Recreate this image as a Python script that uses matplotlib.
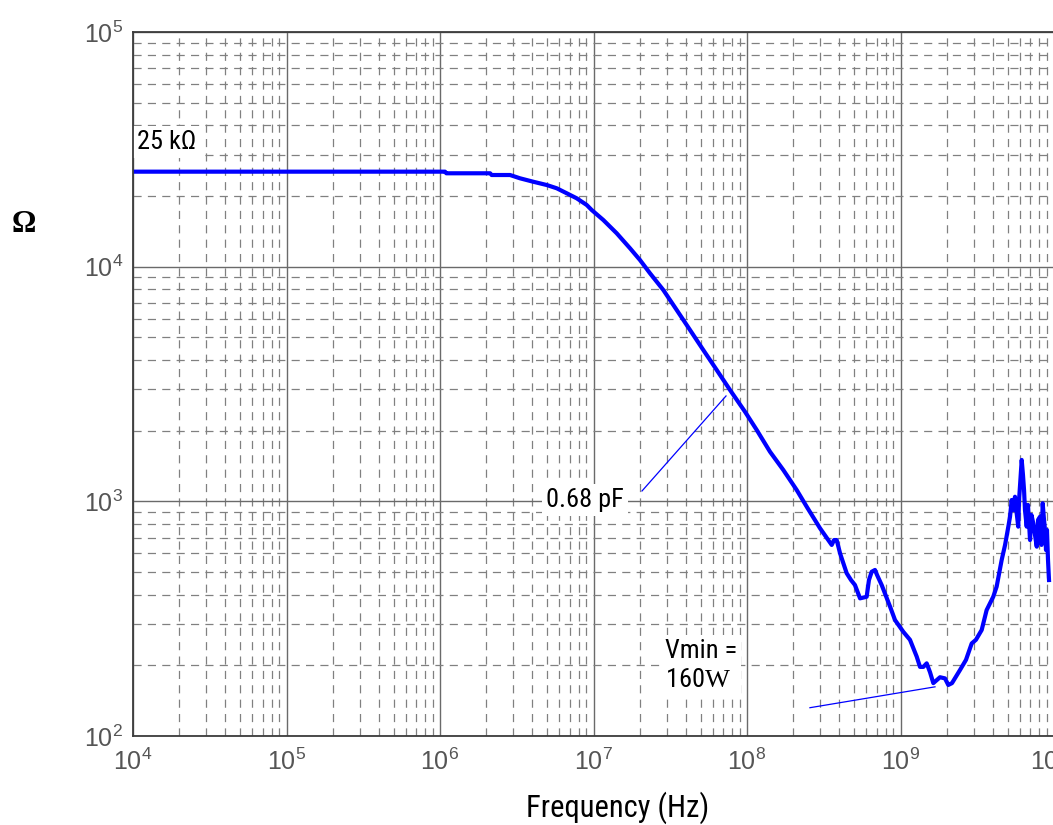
import numpy as np
import matplotlib
matplotlib.use('Agg')
import matplotlib.pyplot as plt
from matplotlib import font_manager
from matplotlib.ticker import FixedLocator, LogLocator, NullFormatter

# impedance magnitude
freq_hz = [1e4, 1.078e6, 1.1e6, 2.12e6, 2.17e6, 2.86e6, 3.32e6, 4.04e6, 4.96e6, 5.76e6,
           6.69e6, 7.77e6, 9.03e6, 9.73e6, 1.158e7, 1.416e7, 1.729e7, 2.009e7, 2.334e7, 2.849e7,
           3.483e7, 4.253e7, 5.19e7, 6.35e7, 7.75e7, 9.70e7, 1.157e8, 1.412e8, 1.724e8, 2.107e8,
           2.448e8, 2.99e8, 3.563e8, 3.69e8, 3.84e8, 4.04e8, 4.46e8, 4.76e8, 5.05e8, 5.45e8,
           6.02e8, 6.23e8, 6.49e8, 6.82e8, 7.03e8, 7.54e8, 8.55e8, 9.21e8, 1.043e9, 1.153e9,
           1.275e9, 1.34e9, 1.408e9, 1.481e9, 1.557e9, 1.636e9, 1.809e9, 1.949e9, 2.048e9, 2.165e9,
           2.44e9, 2.67e9, 2.91e9, 3.10e9, 3.38e9, 3.64e9, 4.02e9, 4.23e9, 4.56e9, 4.80e9,
           5.04e9, 5.17e9, 5.30e9, 5.41e9, 5.57e9, 5.70e9, 5.85e9, 5.92e9, 6.00e9, 6.16e9,
           6.28e9, 6.38e9, 6.47e9, 6.64e9, 6.77e9, 6.98e9, 7.13e9, 7.33e9, 7.52e9, 7.72e9,
           7.87e9, 8.11e9, 8.29e9, 8.44e9, 8.61e9, 8.74e9, 8.87e9, 9.00e9, 9.14e9, 9.28e9]
z_ohm = [25400, 25400, 25000, 25000, 24580, 24580, 23800, 23020, 22280, 21580,
         20550, 19560, 18320, 17440, 15810, 13880, 11980, 10670, 9370, 7955,
         6538, 5373, 4415, 3628, 2982, 2410, 2014, 1627, 1360, 1118,
         949, 768, 652, 684, 684, 600, 494, 462, 440, 386,
         392, 462, 501, 510, 486, 440, 356, 312, 278, 257,
         218, 197, 197, 204, 187, 168, 178, 176, 165, 168,
         191, 211, 248, 257, 283, 344, 392, 433, 562, 652,
         780, 860, 1013, 918, 1046, 901, 780, 1013, 1154, 1501,
         1295, 1118, 918, 780, 965, 684, 875, 806, 719, 641,
         833, 860, 652, 981, 833, 755, 620, 755, 562, 462]

x_decades = [1e4, 1e5, 1e6, 1e7, 1e8, 1e9, 1e10]
y_decades = [1e2, 1e3, 1e4, 1e5]

# pointer lines for the callouts
cap_line_f = [2.07e7, 7.30e7]
cap_line_z = [1107, 2812]
vmin_line_f = [2.57e8, 1.678e9]
vmin_line_z = [132, 162]

plt.rcParams['font.family'] = ['Liberation Sans', 'DejaVu Sans']
plt.rcParams['mathtext.fontset'] = 'custom'
plt.rcParams['mathtext.rm'] = 'Liberation Serif'

# look for a condensed sans face, the labels in the original are narrow
narrow = None
narrow_stretch = 'normal'
names = set(f.name for f in font_manager.fontManager.ttflist)
for cand in ['Liberation Sans Narrow', 'Roboto Condensed', 'Open Sans Condensed',
             'Noto Sans Condensed', 'DejaVu Sans Condensed', 'Arial Narrow']:
    if cand in names:
        narrow = cand
        break
if narrow is None:
    for f in font_manager.fontManager.ttflist:
        if 'condensed' in str(f.stretch) and 'Sans' in f.name and 'Mono' not in f.name:
            narrow = f.name
            narrow_stretch = f.stretch
            break
if narrow is None:
    narrow = 'Liberation Sans'
    lab_fs = 16
else:
    lab_fs = 19
narrow_fam = [narrow, 'Liberation Sans', 'DejaVu Sans']

fig = plt.figure(figsize=(10.53, 8.25), dpi=100)
ax = fig.add_axes([133/1053, 89/825, 921/1053, 704/825])
ax.set_xscale('log')
ax.set_yscale('log')
ax.set_xlim(x_decades[0], x_decades[-1])
ax.set_ylim(y_decades[0], y_decades[-1])

ax.xaxis.set_major_locator(FixedLocator(x_decades))
ax.yaxis.set_major_locator(FixedLocator(y_decades))
for a in (ax.xaxis, ax.yaxis):
    a.set_minor_locator(LogLocator(base=10, subs=np.arange(2, 10), numticks=200))
    a.set_minor_formatter(NullFormatter())

ax.set_axisbelow(True)
ax.grid(True, which='major', color='#6a6a6a', lw=1.0, ls='-')
ax.grid(True, which='minor', color='#808080', lw=0.9, ls=(0, (6.5, 5)))
ax.tick_params(which='both', length=0, labelsize=18, labelcolor='#555555')
ax.tick_params(axis='x', pad=9)
ax.tick_params(axis='y', pad=7)
for s in ax.spines.values():
    s.set_color('#3c3c3c')
    s.set_linewidth(1.3)

ax.plot(freq_hz, z_ohm, color='#0000ff', lw=3.0, solid_joinstyle='round')
ax.plot(cap_line_f, cap_line_z, color='#0000ff', lw=0.9)
ax.plot(vmin_line_f, vmin_line_z, color='#0000ff', lw=0.9)

box = dict(facecolor='white', edgecolor='none', boxstyle='square,pad=0.15')
txt = dict(family=narrow_fam, stretch=narrow_stretch, fontsize=lab_fs, zorder=2.4, bbox=box)
ax.text(1.06e4, 34000, '25 k\u03a9', ha='left', va='center', **txt)
ax.text(4.91e6, 1013, '0.68 pF', ha='left', va='center', **txt)
ax.text(2.92e7, 200, 'Vmin =\n160$\\mathrm{W}$', ha='left', va='center', linespacing=1.25, **txt)

fig.text(24/1053, 1 - 225/825, '\u03a9', family='Liberation Serif', fontweight='bold',
         fontsize=22, ha='center', va='center')
fig.text(618/1053, 1 - 808/825, 'Frequency (Hz)', family=narrow_fam, stretch=narrow_stretch,
         fontsize=lab_fs + 3, ha='center', va='center')

fig.savefig('out.png', dpi=100, facecolor='white')
